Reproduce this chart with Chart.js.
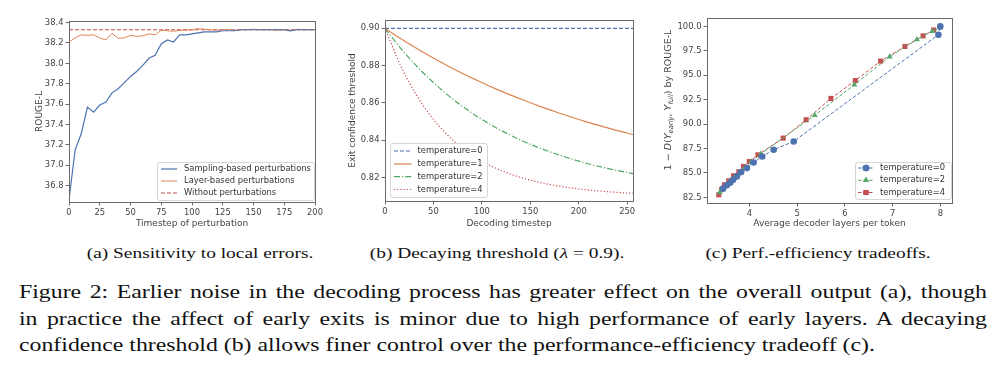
<!DOCTYPE html>
<html>
<head>
<meta charset="utf-8">
<script src="https://cdn.jsdelivr.net/npm/chart.js@4.4.0/dist/chart.umd.min.js"></script>
<style>
  body { margin: 0; width: 999px; height: 379px; position: relative; overflow: hidden; background: #fff;
         font-family: "Liberation Serif", "Times New Roman", serif; color: #111; }
  canvas { position: absolute; top: 0; }
  /* the reference figure is stretched sideways, so the serif text is widened too */
  .sub { position: absolute; top: 242px; height: 22px; line-height: 22px; font-size: 15.5px; text-align: center;
         white-space: nowrap; transform: scaleX(1.25); transform-origin: center; }
  .cap { position: absolute; left: 19px; width: 780.6px; height: 22px; line-height: 22px; font-size: 19.2px;
         text-align: justify; text-align-last: justify; white-space: nowrap; transform: scaleX(1.24); transform-origin: left center; }
</style>
</head>
<body>
<canvas id="chartA" width="330" height="232" style="left:0px"></canvas>
<canvas id="chartB" width="330" height="232" style="left:330px"></canvas>
<canvas id="chartC" width="339" height="232" style="left:660px"></canvas>

<div class="sub" style="left:50px;width:300px">(a) Sensitivity to local errors.</div>
<div class="sub" style="left:347px;width:300px">(b) Decaying threshold (<i>λ</i> = 0.9).</div>
<div class="sub" style="left:668px;width:300px">(c) Perf.-efficiency tradeoffs.</div>

<div class="cap" style="top:281px">Figure 2: Earlier noise in the decoding process has greater effect on the overall output (a), though</div>
<div class="cap" style="top:307.5px">in practice the affect of early exits is minor due to high performance of early layers. A decaying</div>
<div class="cap" style="top:334px;text-align-last:left">confidence threshold (b) allows finer control over the performance-efficiency tradeoff (c).</div>

<script>
// (a) sensitivity to local errors
const stepsA = [0,5,10,15,20,25,30,35,40,45,50,55,60,65,70,75,80,85,90,95,100,105,110,115,120,125,130,135,140,145,150,155,160,165,170,175,180,185,190,195,200];
const samplingA = [36.66,37.15,37.31,37.57,37.52,37.59,37.62,37.71,37.75,37.81,37.87,37.92,37.98,38.05,38.08,38.19,38.23,38.21,38.28,38.28,38.29,38.30,38.31,38.31,38.31,38.32,38.32,38.32,38.33,38.33,38.33,38.33,38.33,38.33,38.33,38.33,38.32,38.33,38.33,38.33,38.33];
const layerA = [38.21,38.25,38.28,38.275,38.28,38.25,38.23,38.295,38.245,38.25,38.275,38.265,38.27,38.29,38.28,38.325,38.32,38.315,38.325,38.325,38.33,38.34,38.335,38.33,38.325,38.33,38.33,38.325,38.33,38.33,38.335,38.33,38.33,38.33,38.325,38.33,38.325,38.335,38.33,38.33,38.33];
const baseStepsA = [0, 200];
const baseA = [38.33, 38.33];
const xTicksA = [0,25,50,75,100,125,150,175,200];
const yTicksA = [36.8,37.0,37.2,37.4,37.6,37.8,38.0,38.2,38.4];

// (b) decaying threshold
const stepsB = [0,16,32,48,64,80,96,112,128,144,160,176,192,208,224,240,256];
const flatStepsB = [0, 256];
const temp0B = [0.9, 0.9];
const temp1B = [0.9,0.8945,0.8894,0.8846,0.8801,0.8758,0.8719,0.8681,0.8646,0.8613,0.8582,0.8553,0.8525,0.8499,0.8475,0.8452,0.8431];
const temp2B = [0.9,0.8894,0.8801,0.8719,0.8646,0.8582,0.8525,0.8475,0.8431,0.8392,0.8358,0.8328,0.8301,0.8277,0.8256,0.8238,0.8222];
const temp4B = [0.9,0.8801,0.8646,0.8525,0.8431,0.8358,0.8301,0.8256,0.8222,0.8195,0.8174,0.8158,0.8145,0.8135,0.8127,0.8121,0.8116];
const xTicksB = [0,50,100,150,200,250];
const yTicksB = [0.82,0.84,0.86,0.88,0.90];

// (c) perf.-efficiency tradeoffs
const layers0C = [3.45,3.53,3.60,3.66,3.74,3.83,3.95,4.09,4.27,4.51,4.93,7.96,8.00];
const score0C  = [83.4,83.75,84.0,84.3,84.65,85.09,85.5,86.08,86.69,87.38,88.23,99.15,100.0];
const layers2C = [3.38,3.44,3.51,3.59,3.68,3.78,3.90,4.04,4.24,5.37,6.20,6.94,7.51,7.83,8.00];
const score2C  = [83.0,83.35,83.7,84.1,84.5,84.95,85.5,86.15,86.95,90.9,94.03,96.9,98.67,99.5,99.85];
const layers4C = [3.36,3.42,3.48,3.57,3.67,3.78,3.88,4.00,4.18,4.71,5.19,5.71,6.22,6.75,7.26,7.64,7.86];
const score4C  = [82.77,83.3,83.79,84.2,84.71,85.12,85.67,86.18,86.86,88.57,90.45,92.63,94.45,96.45,97.95,99.03,99.63];
const xTicksC = [4,5,6,7,8];
const yTicksC = [82.5,85.0,87.5,90.0,92.5,95.0,97.5,100.0];

const BLUE = '#4C72B0', ORANGE = '#DD8452', GREEN = '#55A868', RED = '#C44E52';
const SPINE = '#6a6a6a', LABEL = '#444444';

Chart.defaults.font.family = 'DejaVu Sans';
Chart.defaults.color = LABEL;

const pts = (xs, ys) => xs.map((x, i) => ({ x: x, y: ys[i] }));

// box around the plot area, like matplotlib spines
const frame = {
  id: 'frame',
  afterDatasetsDraw(chart) {
    const a = chart.chartArea, ctx = chart.ctx;
    ctx.save();
    ctx.strokeStyle = SPINE;
    ctx.lineWidth = 1;
    ctx.strokeRect(Math.round(a.left) + 0.5, Math.round(a.top) + 0.5, Math.round(a.right - a.left), Math.round(a.bottom - a.top));
    ctx.restore();
  }
};

// legend box drawn inside the axes
const legendBox = {
  id: 'legendBox',
  afterDraw(chart, args, o) {
    const ctx = chart.ctx;
    ctx.save();
    ctx.beginPath();
    ctx.roundRect(o.x + 0.5, o.y + 0.5, o.w, o.h, 2.5);
    ctx.fillStyle = 'rgba(255,255,255,0.85)';
    ctx.fill();
    ctx.strokeStyle = '#d6d6d6';
    ctx.lineWidth = 1;
    ctx.stroke();
    ctx.font = '8.4px "DejaVu Sans"';
    ctx.textBaseline = 'middle';
    chart.data.datasets.forEach((ds, i) => {
      const y = o.rows[i];
      ctx.strokeStyle = ds.borderColor;
      ctx.lineWidth = ds.borderWidth;
      ctx.setLineDash(ds.borderDash || []);
      ctx.beginPath();
      ctx.moveTo(o.lx0, y);
      ctx.lineTo(o.lx1, y);
      ctx.stroke();
      ctx.setLineDash([]);
      if (o.markers) {
        ctx.fillStyle = ds.backgroundColor;
        Chart.helpers.drawPoint(ctx, { pointStyle: ds.pointStyle, radius: ds.pointRadius, rotation: 0, borderWidth: 0 }, (o.lx0 + o.lx1) / 2, y);
        ctx.fill();
      }
      ctx.fillStyle = '#333';
      ctx.fillText(ds.label, o.tx, y);
    });
    ctx.restore();
  }
};

function xAxis(min, max, ticks, fmt, title, height) {
  return {
    type: 'linear', min: min, max: max,
    afterBuildTicks: s => { s.ticks = ticks.map(v => ({ value: v })); },
    afterFit: s => { s.height = height; },
    border: { display: false },
    grid: { drawOnChartArea: false, drawTicks: true, tickLength: 3.5, color: SPINE },
    ticks: { autoSkip: false, maxRotation: 0, padding: 2, font: { size: 8.4 }, color: LABEL, callback: fmt },
    title: { display: true, text: title, font: { size: 9 }, color: LABEL, padding: { top: 0, bottom: 3 } }
  };
}

function yAxis(min, max, ticks, fmt, title, width, titleLeft) {
  return {
    type: 'linear', min: min, max: max,
    afterBuildTicks: s => { s.ticks = ticks.map(v => ({ value: v })); },
    afterFit: s => { s.width = width; },
    border: { display: false },
    grid: { drawOnChartArea: false, drawTicks: true, tickLength: 3.5, color: SPINE },
    ticks: { autoSkip: false, padding: 2, font: { size: 8.4 }, color: LABEL, callback: fmt },
    title: { display: !!title, text: title, font: { size: 9 }, color: LABEL, padding: { top: titleLeft - 5.4, bottom: 0 } }
  };
}

// (a)
new Chart(document.getElementById('chartA'), {
  type: 'line',
  data: {
    datasets: [
      { label: 'Sampling-based perturbations', data: pts(stepsA, samplingA), borderColor: BLUE, borderWidth: 1.2, pointRadius: 0, tension: 0 },
      { label: 'Layer-based perturbations', data: pts(stepsA, layerA), borderColor: ORANGE, borderWidth: 1, pointRadius: 0, tension: 0 },
      { label: 'Without perturbations', data: pts(baseStepsA, baseA), borderColor: RED, borderWidth: 1.2, borderDash: [4, 2], pointRadius: 0 }
    ]
  },
  options: {
    responsive: false, animation: false, devicePixelRatio: 1,
    layout: { padding: { left: 0, top: 21, right: 15, bottom: 0 } },
    plugins: {
      legend: { display: false }, tooltip: { enabled: false },
      legendBox: { x: 157, y: 162, w: 157, h: 38, rows: [169, 181, 193], lx0: 161, lx1: 177, tx: 184 }
    },
    scales: {
      x: xAxis(0, 200, xTicksA, v => String(v), 'Timestep of perturbation', 30),
      y: yAxis(36.637, 38.416, yTicksA, v => v.toFixed(1), 'ROUGE-L', 69, 40)
    }
  },
  plugins: [frame, legendBox]
});

// (b)
new Chart(document.getElementById('chartB'), {
  type: 'line',
  data: {
    datasets: [
      { label: 'temperature=0', data: pts(flatStepsB, temp0B), borderColor: BLUE, borderWidth: 1.2, borderDash: [4, 2], pointRadius: 0 },
      { label: 'temperature=1', data: pts(stepsB, temp1B), borderColor: ORANGE, borderWidth: 1.2, pointRadius: 0, cubicInterpolationMode: 'monotone' },
      { label: 'temperature=2', data: pts(stepsB, temp2B), borderColor: GREEN, borderWidth: 1.2, borderDash: [6, 2, 1.2, 2], pointRadius: 0, cubicInterpolationMode: 'monotone' },
      { label: 'temperature=4', data: pts(stepsB, temp4B), borderColor: RED, borderWidth: 1.2, borderDash: [1.2, 2], pointRadius: 0, cubicInterpolationMode: 'monotone' }
    ]
  },
  options: {
    responsive: false, animation: false, devicePixelRatio: 1,
    layout: { padding: { left: 0, top: 20, right: 27, bottom: 0 } },
    plugins: {
      legend: { display: false }, tooltip: { enabled: false },
      legendBox: { x: 60, y: 143, w: 97, h: 54, rows: [151, 164, 176.7, 189.5], lx0: 64, lx1: 81.5, tx: 87.5 }
    },
    scales: {
      x: xAxis(0, 256, xTicksB, v => String(v), 'Decoding timestep', 31),
      y: yAxis(0.8075, 0.90444, yTicksB, v => v.toFixed(2), 'Exit confidence threshold', 55, 22.7)
    }
  },
  plugins: [frame, legendBox]
});

// (c) y title with italic symbols and subscripts
const mathTitle = {
  id: 'mathTitle',
  afterDraw(chart) {
    const ctx = chart.ctx;
    const parts = [
      { t: '1 \u2212 ', f: '9.5px "DejaVu Sans"' },
      { t: 'D', f: 'italic 9.5px "DejaVu Sans"' },
      { t: '(', f: '9.5px "DejaVu Sans"' },
      { t: 'Y', f: 'italic 9.5px "DejaVu Sans"' },
      { t: 'early', f: 'italic 6.8px "DejaVu Sans"', dy: 2.5 },
      { t: ', ', f: '9.5px "DejaVu Sans"' },
      { t: 'Y', f: 'italic 9.5px "DejaVu Sans"' },
      { t: 'full', f: 'italic 6.8px "DejaVu Sans"', dy: 2.5 },
      { t: ') by ROUGE-L', f: '9.5px "DejaVu Sans"' }
    ];
    ctx.save();
    let total = 0;
    parts.forEach(p => { ctx.font = p.f; p.w = ctx.measureText(p.t).width; total += p.w; });
    ctx.translate(9, 100);
    ctx.rotate(-Math.PI / 2);
    ctx.fillStyle = LABEL;
    ctx.textBaseline = 'middle';
    let x = -total / 2;
    parts.forEach(p => { ctx.font = p.f; ctx.fillText(p.t, x, p.dy || 0); x += p.w; });
    ctx.restore();
  }
};

new Chart(document.getElementById('chartC'), {
  type: 'line',
  data: {
    datasets: [
      { label: 'temperature=0', data: pts(layers0C, score0C), borderColor: BLUE, backgroundColor: BLUE, borderWidth: 1, borderDash: [3.5, 2], pointStyle: 'circle', pointRadius: 3.3, pointBorderWidth: 0 },
      { label: 'temperature=2', data: pts(layers2C, score2C), borderColor: GREEN, backgroundColor: GREEN, borderWidth: 1, borderDash: [3.5, 2], pointStyle: 'triangle', pointRadius: 3.5, pointBorderWidth: 0 },
      { label: 'temperature=4', data: pts(layers4C, score4C), borderColor: RED, backgroundColor: RED, borderWidth: 1, borderDash: [3.5, 2], pointStyle: 'rect', pointRadius: 3.6, pointBorderWidth: 0 }
    ]
  },
  options: {
    responsive: false, animation: false, devicePixelRatio: 1,
    layout: { padding: { left: 0, top: 18, right: 47, bottom: 0 } },
    plugins: {
      legend: { display: false }, tooltip: { enabled: false },
      legendBox: { x: 195, y: 162, w: 96, h: 37, rows: [168, 180.3, 192.5], lx0: 198, lx1: 214, tx: 220, markers: true }
    },
    scales: {
      x: xAxis(3.114, 8.245, xTicksC, v => String(v), 'Average decoder layers per token', 29),
      y: yAxis(81.93, 100.86, yTicksC, v => v.toFixed(1), '', 47, 10)
    }
  },
  plugins: [frame, legendBox, mathTitle]
});
</script>
</body>
</html>
